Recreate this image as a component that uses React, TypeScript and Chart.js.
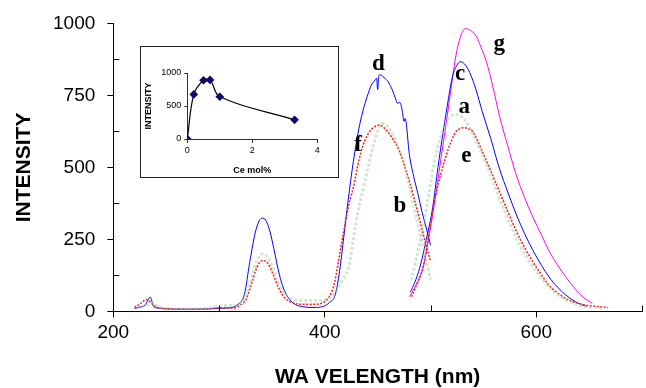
import React, { useEffect, useRef } from "react";
import { Chart, registerables } from "chart.js";

Chart.register(...registerables);

// ---- main spectra data ----
const dNm = [220, 225, 230, 235, 238, 242, 250, 270, 290, 300, 310, 318, 324, 329, 334, 338, 341, 344, 348, 352, 356, 360, 366, 372, 380, 390, 398, 404, 410, 414, 418, 422, 427, 432, 436, 440, 444, 448, 449, 450, 451, 452, 456, 460, 464, 467, 469, 471, 473, 475, 476, 480, 484, 488, 492, 496, 500];
const dInt = [11, 15, 22, 50, 18, 12, 9, 8, 9, 11, 13, 25, 60, 170, 270, 315, 324, 318, 280, 215, 145, 90, 45, 25, 16, 14, 17, 30, 60, 140, 260, 383, 520, 630, 695, 745, 785, 805, 810, 770, 815, 822, 812, 797, 768, 738, 722, 726, 702, 660, 670, 545, 470, 410, 345, 290, 230];

const fNm = [220, 226, 231, 236, 240, 250, 270, 290, 300, 313, 320, 326, 331, 336, 341, 346, 351, 356, 362, 370, 380, 390, 398, 404, 409, 416, 423, 427, 432, 436, 440, 444, 448, 452, 456, 460, 465, 470, 475, 480, 485, 490, 495, 500];
const fInt = [14, 28, 42, 30, 18, 10, 8, 9, 13, 12, 22, 45, 100, 155, 177, 168, 130, 85, 48, 30, 25, 25, 30, 50, 97, 240, 375, 430, 520, 575, 610, 632, 643, 647, 638, 622, 595, 562, 510, 452, 385, 315, 240, 175];

const bNm = [222, 228, 233, 237, 242, 250, 270, 290, 300, 315, 322, 328, 333, 338, 341, 345, 350, 355, 362, 370, 380, 390, 400, 405, 410, 417, 423, 427, 431, 436, 441, 446, 450, 455, 460, 465, 470, 475, 480, 485, 490, 495, 500];
const bInt = [12, 18, 25, 30, 18, 10, 9, 12, 20, 22, 35, 80, 150, 190, 200, 192, 160, 110, 62, 42, 38, 38, 40, 48, 70, 110, 160, 250, 340, 420, 500, 578, 625, 653, 640, 610, 565, 510, 430, 350, 275, 195, 110];

const cNm = [481, 485, 490, 496, 502, 507, 512, 517, 521, 525, 528, 532, 537, 543, 549, 557, 565, 573, 581, 589, 597, 605, 612, 620, 628, 636, 644, 648];
const cInt = [68, 100, 154, 250, 360, 500, 624, 740, 819, 855, 867, 860, 830, 770, 693, 600, 498, 415, 338, 270, 211, 160, 120, 85, 57, 36, 22, 18];

const gNm = [480, 486, 493, 499, 505, 510, 515, 520, 524, 528, 533, 538, 543, 548, 553, 559, 565, 573, 581, 589, 597, 605, 612, 620, 628, 636, 644, 653];
const gInt = [51, 90, 154, 270, 406, 535, 658, 790, 888, 950, 982, 975, 957, 915, 865, 780, 682, 575, 475, 395, 326, 265, 211, 162, 120, 82, 51, 28];

const aNm = [482, 487, 493, 499, 505, 510, 515, 520, 525, 530, 534, 540, 549, 557, 565, 573, 581, 589, 597, 605, 612, 620, 628, 636, 647, 656, 665];
const aInt = [108, 190, 292, 420, 544, 610, 658, 680, 684, 675, 658, 615, 544, 470, 395, 322, 257, 200, 154, 115, 85, 60, 40, 27, 17, 13, 10];

const eNm = [482, 487, 493, 499, 505, 510, 515, 520, 524, 528, 531, 535, 540, 549, 557, 565, 573, 581, 589, 597, 605, 612, 620, 628, 636, 647, 656, 668];
const eInt = [51, 95, 154, 280, 406, 480, 544, 595, 624, 635, 638, 635, 624, 555, 488, 418, 348, 280, 222, 171, 127, 91, 65, 45, 32, 22, 18, 14];

// curve letters (placed in data coordinates)
const letterText = ["d", "g", "c", "a", "e", "f", "b"];
const letterNm = [450.6, 565, 528, 532, 534, 431.5, 471];
const letterInt = [859, 928, 825, 710, 538, 578, 366];

// axis ticks
const xMajorLabels = [200, 400, 600];
const xMinorTicks = [300, 500, 700];
const yMajorLabels = [0, 250, 500, 750, 1000];
const yMinorTicks = [125, 375, 625, 875];

// ---- inset data ----
const cePct = [0, 0.2, 0.5, 0.7, 1.0, 3.3];
const ceIntensity = [0, 675, 890, 895, 640, 290];
const insetXLabels = [0, 2, 4];
const insetYLabels = [0, 500, 1000];

const zip = (xs: number[], ys: number[]) => xs.map((x, i) => ({ x, y: ys[i] }));

const SANS = "'Liberation Sans', Arial, sans-serif";

const mainPlugin = {
  id: "extras",
  afterDraw(chart: any) {
    const { ctx, scales } = chart;
    const xs = scales.x;
    const ys = scales.y;
    ctx.save();
    ctx.strokeStyle = "#000";
    ctx.lineWidth = 1;
    ctx.beginPath();
    yMinorTicks.forEach((v) => {
      const py = Math.round(ys.getPixelForValue(v)) + 0.5;
      ctx.moveTo(xs.left, py);
      ctx.lineTo(xs.left + 6, py);
    });
    xMinorTicks.forEach((v) => {
      const px = Math.round(xs.getPixelForValue(v)) + 0.5;
      ctx.moveTo(px, ys.bottom);
      ctx.lineTo(px, ys.bottom - 6);
    });
    ctx.stroke();
    ctx.fillStyle = "#000";
    ctx.font = "bold 23px 'Liberation Serif', 'Times New Roman', serif";
    ctx.textAlign = "center";
    ctx.textBaseline = "middle";
    letterText.forEach((t, i) => {
      ctx.fillText(t, xs.getPixelForValue(letterNm[i]), ys.getPixelForValue(letterInt[i]));
    });
    ctx.restore();
  },
};

export default function App() {
  const mainRef = useRef<HTMLCanvasElement>(null);
  const insetRef = useRef<HTMLCanvasElement>(null);

  useEffect(() => {
    const blue = "#0000ff";
    const red = "#ff1a1a";
    const green = "rgba(150,205,150,0.45)";
    const magenta = "#ff00ff";
    const mk = (label: string, xs: number[], ys: number[], color: string, width: number, dash: number[]) => ({
      label,
      data: zip(xs, ys),
      borderColor: color,
      borderWidth: width,
      borderDash: dash,
      pointRadius: 0,
      fill: false,
      tension: 0.3,
      cubicInterpolationMode: "monotone" as const,
    });
    const main = new Chart(mainRef.current!, {
      type: "line",
      data: {
        datasets: [
          mk("b", bNm, bInt, green, 3, [3, 2]),
          mk("a", aNm, aInt, green, 3, [3, 2]),
          mk("f", fNm, fInt, red, 1.5, [2, 1.5]),
          mk("e", eNm, eInt, red, 1.5, [2, 1.5]),
          mk("d", dNm, dInt, blue, 1, []),
          mk("c", cNm, cInt, blue, 1, []),
          mk("g", gNm, gInt, magenta, 1, []),
        ],
      },
      options: {
        animation: false,
        responsive: false,
        devicePixelRatio: 1,
        layout: { padding: { top: 20.7, right: 3, left: 0, bottom: 0 } },
        plugins: { legend: { display: false }, tooltip: { enabled: false } },
        scales: {
          x: {
            type: "linear",
            min: 200,
            max: 700,
            afterFit: (s: any) => {
              s.height = 76.5;
            },
            afterBuildTicks: (s: any) => {
              s.ticks = [...xMajorLabels, ...xMinorTicks].sort((p, q) => p - q).map((v) => ({ value: v }));
            },
            ticks: {
              color: "#000",
              font: { family: SANS, size: 19 },
              padding: 4,
              maxRotation: 0,
              autoSkip: false,
              callback: (v: any) => (xMajorLabels.includes(Number(v)) ? String(v) : ""),
            },
            grid: {
              drawOnChartArea: false,
              drawTicks: true,
              tickLength: 6,
              color: (c: any) => (c.tick && xMajorLabels.includes(c.tick.value) ? "#000" : "rgba(0,0,0,0)"),
            },
            border: { display: true, color: "#000", width: 1 },
            title: {
              display: true,
              text: "WA VELENGTH (nm)",
              color: "#000",
              font: { family: SANS, size: 21, weight: "bold", lineHeight: 1 },
              padding: { top: 0, bottom: 0 },
            },
          },
          y: {
            type: "linear",
            min: 0,
            max: 1000,
            afterFit: (s: any) => {
              s.width = 113.3;
            },
            afterBuildTicks: (s: any) => {
              s.ticks = [...yMajorLabels, ...yMinorTicks].sort((p, q) => p - q).map((v) => ({ value: v }));
            },
            ticks: {
              color: "#000",
              font: { family: SANS, size: 19 },
              padding: 12,
              autoSkip: false,
              callback: (v: any) => (yMajorLabels.includes(Number(v)) ? String(v) : ""),
            },
            grid: {
              drawOnChartArea: false,
              drawTicks: true,
              tickLength: 6,
              color: (c: any) => (c.tick && yMajorLabels.includes(c.tick.value) ? "#000" : "rgba(0,0,0,0)"),
            },
            border: { display: true, color: "#000", width: 1 },
            title: {
              display: true,
              text: "INTENSITY",
              color: "#000",
              font: { family: SANS, size: 21, weight: "bold", lineHeight: 1 },
              padding: { top: 14, bottom: 0 },
            },
          },
        },
      },
      plugins: [mainPlugin],
    });

    const inset = new Chart(insetRef.current!, {
      type: "line",
      data: {
        datasets: [
          {
            data: zip(cePct, ceIntensity),
            borderColor: "#000",
            borderWidth: 1.2,
            tension: 0.35,
            pointStyle: "rectRot",
            pointRadius: 3.5,
            pointBackgroundColor: "#0a0a6e",
            pointBorderColor: "#0a0a6e",
            fill: false,
          },
        ],
      },
      options: {
        animation: false,
        responsive: false,
        devicePixelRatio: 1,
        layout: { padding: { top: 26, right: 20.7, left: 0, bottom: 0 } },
        plugins: { legend: { display: false }, tooltip: { enabled: false } },
        scales: {
          x: {
            type: "linear",
            min: 0,
            max: 4,
            afterFit: (s: any) => {
              s.height = 38;
            },
            afterBuildTicks: (s: any) => {
              s.ticks = insetXLabels.map((v) => ({ value: v }));
            },
            ticks: {
              color: "#000",
              font: { family: SANS, size: 9 },
              padding: 2,
              maxRotation: 0,
              callback: (v: any) => String(v),
            },
            grid: { drawOnChartArea: false, tickLength: 4, color: "#333" },
            border: { display: true, color: "#333", width: 1 },
            title: {
              display: true,
              text: "Ce mol%",
              color: "#000",
              font: { family: SANS, size: 9, weight: "bold", lineHeight: 1 },
              padding: { top: 0, bottom: 1.8 },
            },
          },
          y: {
            type: "linear",
            min: 0,
            max: 1000,
            afterFit: (s: any) => {
              s.width = 46.3;
            },
            afterBuildTicks: (s: any) => {
              s.ticks = insetYLabels.map((v) => ({ value: v }));
            },
            ticks: { color: "#000", font: { family: SANS, size: 9 }, padding: 3, callback: (v: any) => String(v) },
            grid: { drawOnChartArea: false, tickLength: 3, color: "#333" },
            border: { display: true, color: "#333", width: 1 },
            title: {
              display: true,
              text: "INTENSITY",
              color: "#000",
              font: { family: SANS, size: 9, weight: "bold", lineHeight: 1 },
              padding: { top: 2.8, bottom: 0 },
            },
          },
        },
      },
    });

    return () => {
      main.destroy();
      inset.destroy();
    };
  }, []);

  return (
    <div style={{ position: "fixed", left: 0, top: 0, width: 646, height: 388, background: "#fff" }}>
      <canvas ref={mainRef} width={646} height={388} style={{ position: "absolute", left: 0, top: 0 }} />
      <div
        style={{
          position: "absolute",
          left: 140,
          top: 46,
          width: 197,
          height: 130,
          border: "1.5px solid #222",
          background: "#fff",
        }}
      >
        <canvas ref={insetRef} width={197} height={130} style={{ display: "block" }} />
      </div>
    </div>
  );
}
